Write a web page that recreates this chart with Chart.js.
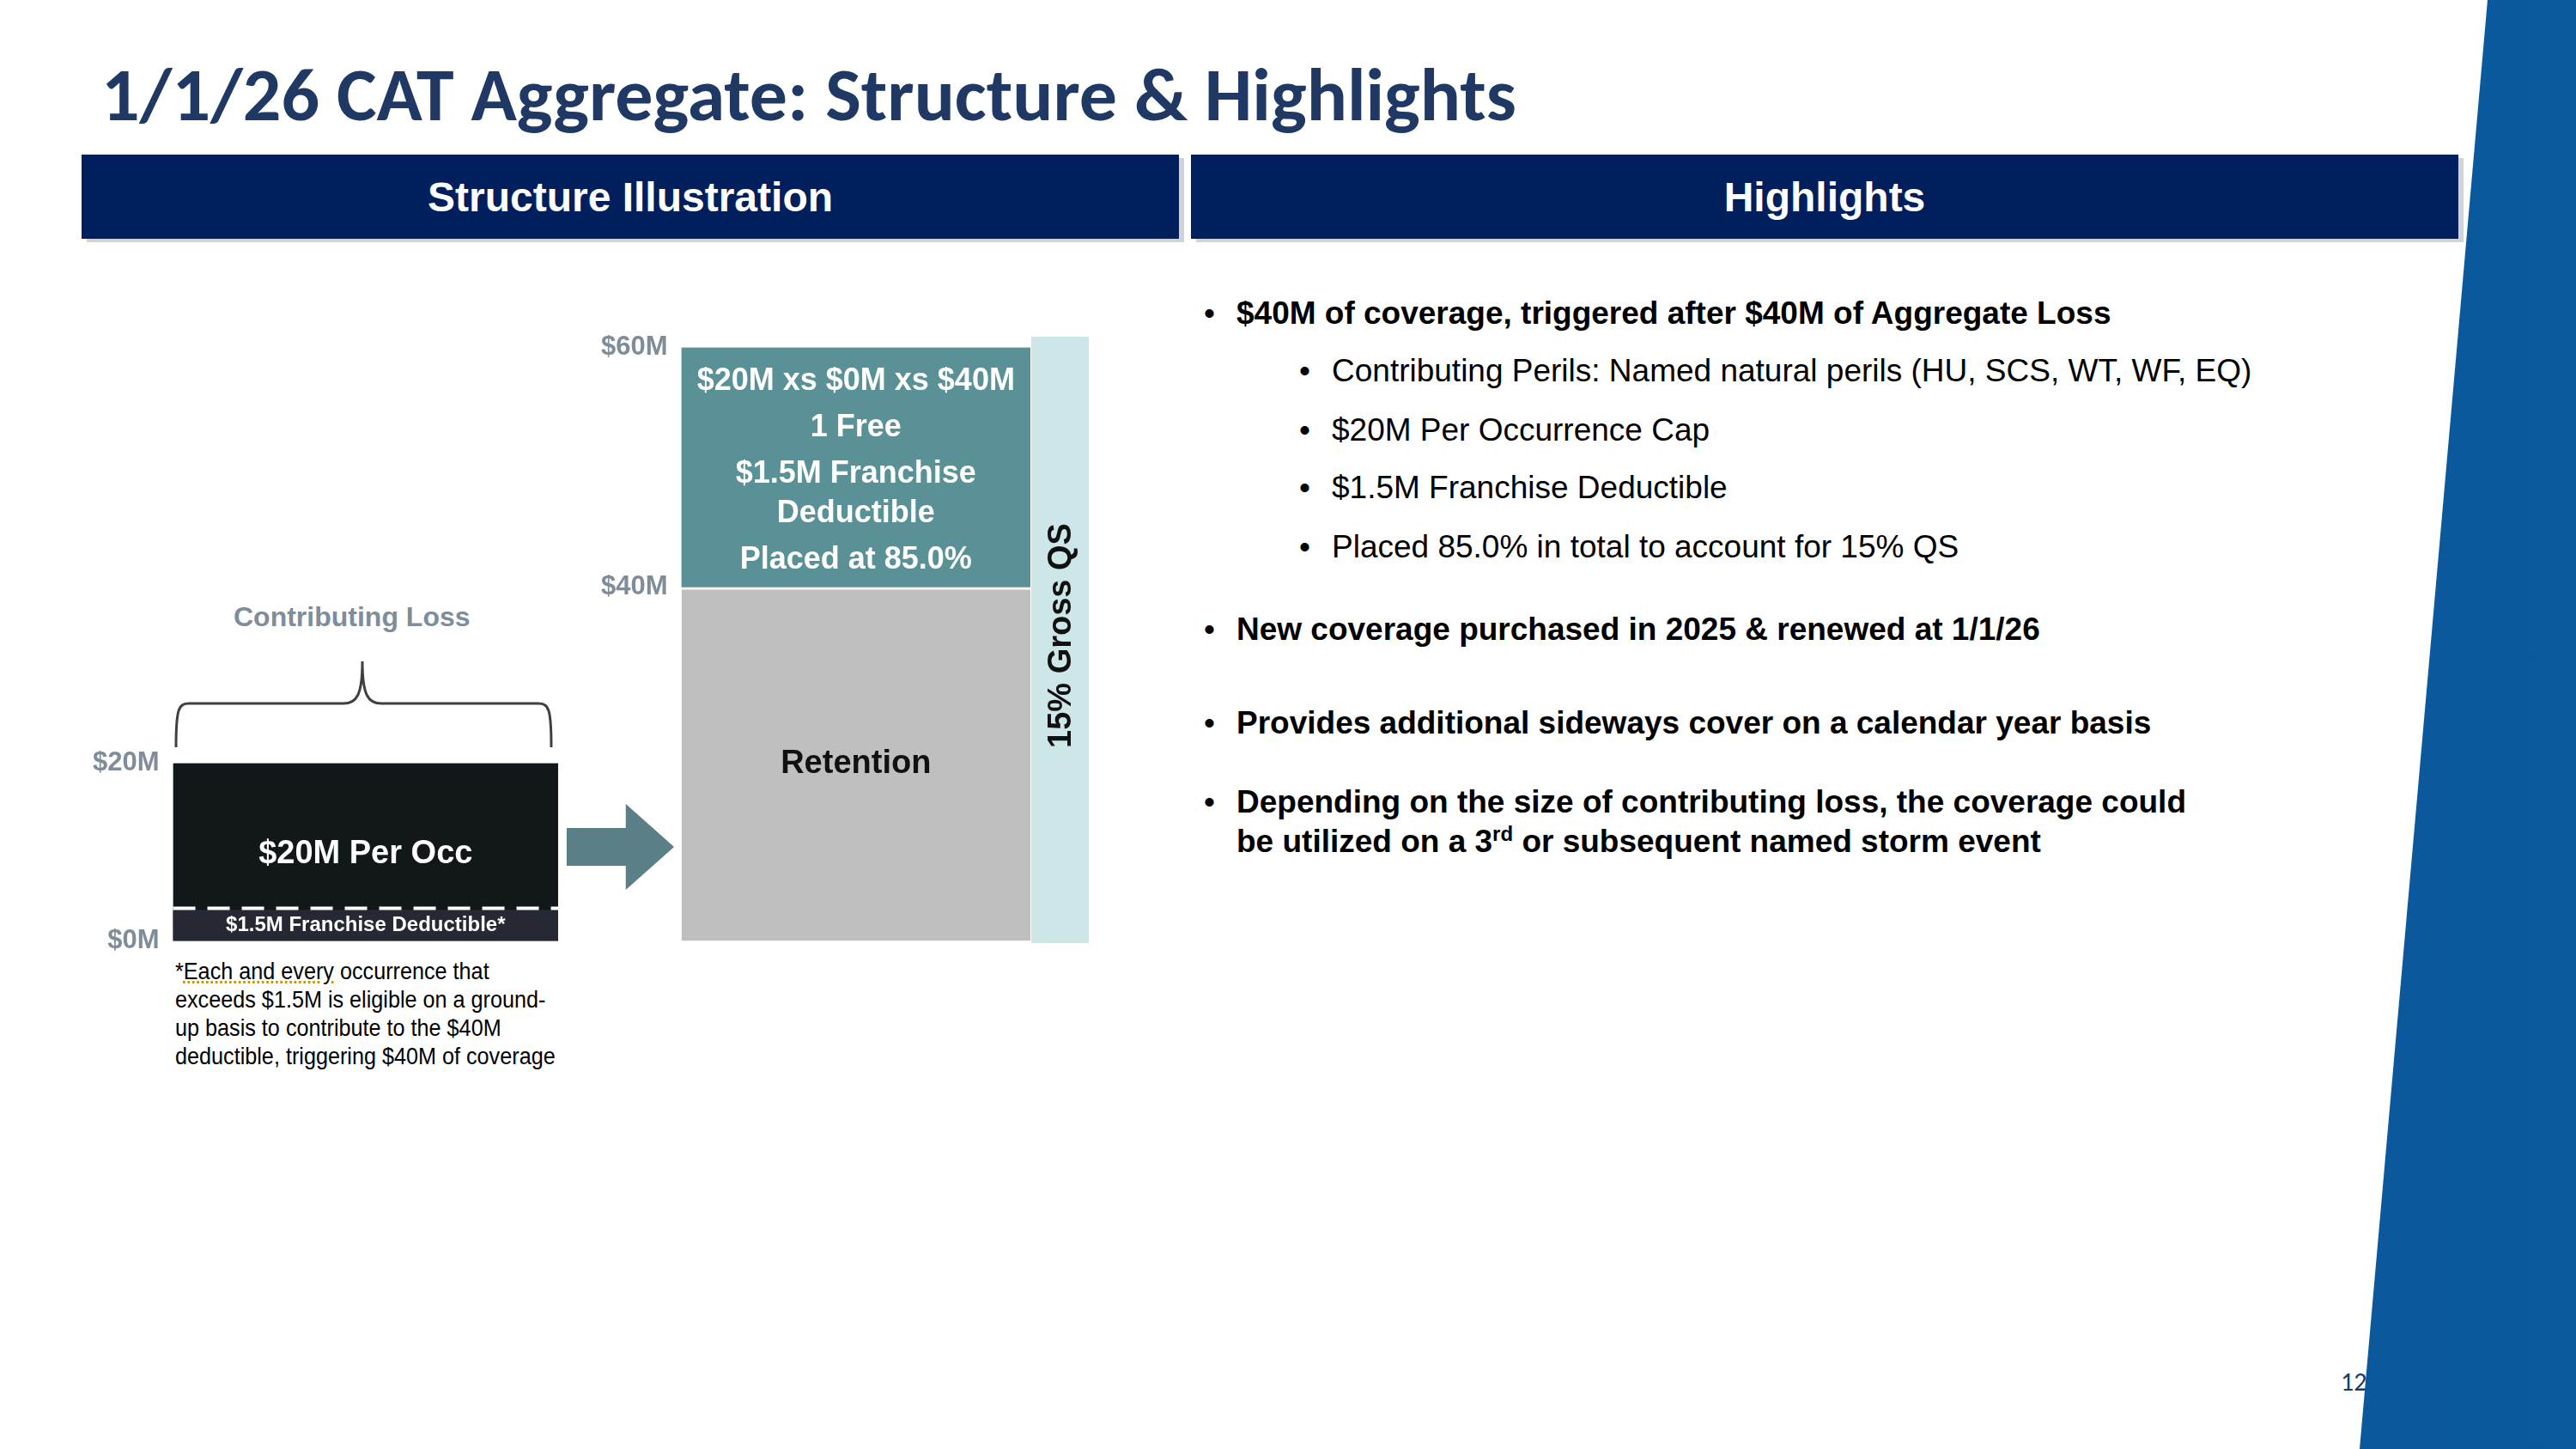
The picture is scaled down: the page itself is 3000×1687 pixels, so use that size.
<!DOCTYPE html>
<html>
<head>
<meta charset="utf-8">
<script src="https://cdn.jsdelivr.net/npm/chart.js@4"></script>
<style>
  body { margin:0; width:3000px; height:1687px; position:relative; background:#fff; font-family:Arial, "Liberation Sans", sans-serif; overflow:hidden; }
  .abs { position:absolute; }
  h1 { position:absolute; left:118px; top:56px; margin:0; font-family:Calibri, "Open Sans", sans-serif; font-size:88px; font-weight:700; color:#1f3864; }
  .bar { position:absolute; top:180px; height:98px; background:#001f5c; color:#fff; font-weight:700; font-size:48px; display:flex; align-items:center; justify-content:center; box-shadow:6px 4px 0 #d0d3d8; }
  .slant { position:absolute; left:0; top:0; width:3000px; height:1687px; background:linear-gradient(90deg,#0a3d6e 0%,#0b4f8f 40%,#0b5a9e 100%); clip-path:polygon(2897px 0,3000px 0,3000px 1687px,2748px 1687px); }
  .pnum { position:absolute; left:2726px; top:1590px; font-family:Calibri, "Open Sans", sans-serif; font-size:30px; color:#1f3864; }
  .bl { position:absolute; font-size:37px; color:#000; line-height:46px; }
  .bl.b { font-weight:700; left:1440px; width:1130px; }
  .bl.s { left:1551px; }
  .bl::before { content:"•"; position:absolute; left:-38px; font-weight:400; }
  .note { position:absolute; left:204px; top:1114px; font-size:28px; line-height:33px; color:#000; white-space:nowrap; transform:scaleX(0.9); transform-origin:left top; }
  .cl { position:absolute; left:272px; top:700px; font-size:32px; font-weight:700; color:#7f8c9a; }
  .arrow { position:absolute; left:660px; top:936px; width:125px; height:100px; background:#5a7f86; clip-path:polygon(0 28%,55% 28%,55% 0,100% 50%,55% 100%,55% 72%,0 72%); }
</style>
</head>
<body>
<div class="slant"></div>
<h1>1/1/26 CAT Aggregate: Structure &amp; Highlights</h1>
<div class="bar" style="left:95px;width:1278px;">Structure Illustration</div>
<div class="bar" style="left:1387px;width:1476px;">Highlights</div>
<div class="pnum">12</div>

<div class="bl b" style="top:342px;">$40M of coverage, triggered after $40M of Aggregate Loss</div>
<div class="bl s" style="top:409px;">Contributing Perils: Named natural perils (HU, SCS, WT, WF, EQ)</div>
<div class="bl s" style="top:478px;">$20M Per Occurrence Cap</div>
<div class="bl s" style="top:545px;">$1.5M Franchise Deductible</div>
<div class="bl s" style="top:614px;">Placed 85.0% in total to account for 15% QS</div>
<div class="bl b" style="top:710px;">New coverage purchased in 2025 &amp; renewed at 1/1/26</div>
<div class="bl b" style="top:819px;">Provides additional sideways cover on a calendar year basis</div>
<div class="bl b" style="top:911px;">Depending on the size of contributing loss, the coverage could be utilized on a 3<sup style="font-size:24px;line-height:0">rd</sup> or subsequent named storm event</div>

<div class="cl">Contributing Loss</div>
<svg class="abs" style="left:200px;top:765px" width="452" height="110">
  <path d="M5,105 C5,60 8,54 20,54 L200,54 C215,54 222,45 222,5 C222,45 229,54 244,54 L427,54 C439,54 442,60 442,105" fill="none" stroke="#404040" stroke-width="3"/>
</svg>
<div class="arrow"></div>
<div class="note">*<u style="text-decoration:underline dotted #c09000">Each and every</u> occurrence that<br>exceeds $1.5M is eligible on a ground-<br>up basis to contribute to the $40M<br>deductible, triggering $40M of coverage</div>

<div class="abs" style="left:100px;top:862px;width:550px;height:260px;"><canvas id="lossChart"></canvas></div>
<div class="abs" style="left:692px;top:378px;width:508px;height:744px;"><canvas id="towerChart"></canvas></div>
<div class="abs" style="left:1201px;top:392px;width:67px;height:706px;"><canvas id="qsChart"></canvas></div>

<script>
// data
const lossCategories = ['Contributing Loss'];
const deductibleValues = [1.5];
const perOccValues = [18.5];
const lossTicks = [0, 20];

const towerCategories = ['Tower'];
const retentionValues = [40];
const layerValues = [20];
const towerTicks = [40, 60];
const qsValues = [60];

const layerLabel = ['$20M xs $0M xs $40M', '1 Free', '$1.5M Franchise', 'Deductible', 'Placed at 85.0%'];

const tickStyle = { color: '#7f8c9a', font: { family: 'Arial', size: 31, weight: 'bold' }, padding: 8 };

function yAxis(max, ticks) {
    return {
        stacked: true, min: 0, max: max,
        grid: { display: false }, border: { display: false },
        afterBuildTicks: axis => { axis.ticks = ticks.map(v => ({ value: v })); },
        ticks: Object.assign({ callback: v => '$' + v + 'M' }, tickStyle)
    };
}

function barText(chart, dsIndex, lines, color, size, gaps) {
    const el = chart.getDatasetMeta(dsIndex).data[0];
    const ctx = chart.ctx;
    ctx.save();
    ctx.fillStyle = color;
    ctx.textAlign = 'center';
    ctx.textBaseline = 'middle';
    ctx.font = 'bold ' + size + 'px Arial';
    let y = gaps.start;
    lines.forEach((t, i) => { ctx.fillText(t, el.x, y); y += gaps.step[i] || 0; });
    ctx.restore();
}

Chart.defaults.animation = false;
Chart.defaults.plugins.legend.display = false;
Chart.defaults.plugins.tooltip.enabled = false;

new Chart(document.getElementById('lossChart'), {
    type: 'bar',
    data: {
        labels: lossCategories,
        datasets: [
            { data: deductibleValues, backgroundColor: '#262833', barPercentage: 1, categoryPercentage: 1 },
            { data: perOccValues, backgroundColor: '#121819', barPercentage: 1, categoryPercentage: 1 }
        ]
    },
    options: {
        responsive: true, maintainAspectRatio: false,
        layout: { padding: { top: 10, bottom: -12 } },
        scales: { x: { stacked: true, display: false }, y: yAxis(20, lossTicks) }
    },
    plugins: [{
        afterDatasetsDraw(chart) {
            const ctx = chart.ctx;
            const ded = chart.getDatasetMeta(0).data[0];
            const occ = chart.getDatasetMeta(1).data[0];
            // deductible band drawn thicker than scale, as in the slide
            const left = ded.x - ded.width / 2, right = ded.x + ded.width / 2;
            ctx.save();
            ctx.fillStyle = '#262833';
            ctx.fillRect(left, ded.base - 36, ded.width, 36);
            ctx.strokeStyle = '#ffffff';
            ctx.lineWidth = 4;
            ctx.setLineDash([26, 14]);
            ctx.beginPath();
            ctx.moveTo(left, ded.base - 38);
            ctx.lineTo(right, ded.base - 38);
            ctx.stroke();
            ctx.fillStyle = '#fff';
            ctx.textAlign = 'center'; ctx.textBaseline = 'middle';
            ctx.font = 'bold 24px "Liberation Sans Narrow", Arial';
            ctx.fillText('$1.5M Franchise Deductible*', ded.x, ded.base - 18);
            ctx.font = 'bold 38px Arial';
            ctx.fillText('$20M Per Occ', occ.x, occ.y + 106);
            ctx.restore();
        }
    }]
});

// tower: log axis so the layer gets the same share of height as on the slide
const towerY = yAxis(60, towerTicks);
towerY.type = 'logarithmic';
towerY.min = 22;

new Chart(document.getElementById('towerChart'), {
    type: 'bar',
    data: {
        labels: towerCategories,
        datasets: [
            { data: retentionValues, backgroundColor: '#bfbfbf', borderColor: '#fff', borderWidth: { top: 3 }, borderSkipped: false, barPercentage: 1, categoryPercentage: 1 },
            { data: layerValues, backgroundColor: '#5a9197', barPercentage: 1, categoryPercentage: 1 }
        ]
    },
    options: {
        responsive: true, maintainAspectRatio: false,
        layout: { padding: { top: 14, bottom: -12 } },
        scales: { x: { stacked: true, display: false }, y: towerY }
    },
    plugins: [{
        afterDatasetsDraw(chart) {
            const top = chart.getDatasetMeta(1).data[0].y;
            barText(chart, 1, layerLabel, '#ffffff', 36, { start: top + 39, step: [54, 54, 46, 54] });
            const ret = chart.getDatasetMeta(0).data[0];
            barText(chart, 0, ['Retention'], '#111', 38, { start: (ret.y + ret.base) / 2, step: [] });
        }
    }]
});

new Chart(document.getElementById('qsChart'), {
    type: 'bar',
    data: {
        labels: ['QS'],
        datasets: [{ data: qsValues, backgroundColor: '#cde6e8', barPercentage: 1, categoryPercentage: 1 }]
    },
    options: {
        responsive: true, maintainAspectRatio: false,
        scales: { x: { display: false }, y: { display: false, min: 0, max: 60 } }
    },
    plugins: [{
        afterDatasetsDraw(chart) {
            const el = chart.getDatasetMeta(0).data[0];
            const ctx = chart.ctx;
            ctx.save();
            ctx.translate(el.x + 2, 348);
            ctx.rotate(-Math.PI / 2);
            ctx.fillStyle = '#111';
            ctx.textAlign = 'center'; ctx.textBaseline = 'middle';
            ctx.font = 'bold 38px Arial';
            ctx.fillText('15% Gross QS', 0, 0);
            ctx.restore();
        }
    }]
});
</script>
</body>
</html>
